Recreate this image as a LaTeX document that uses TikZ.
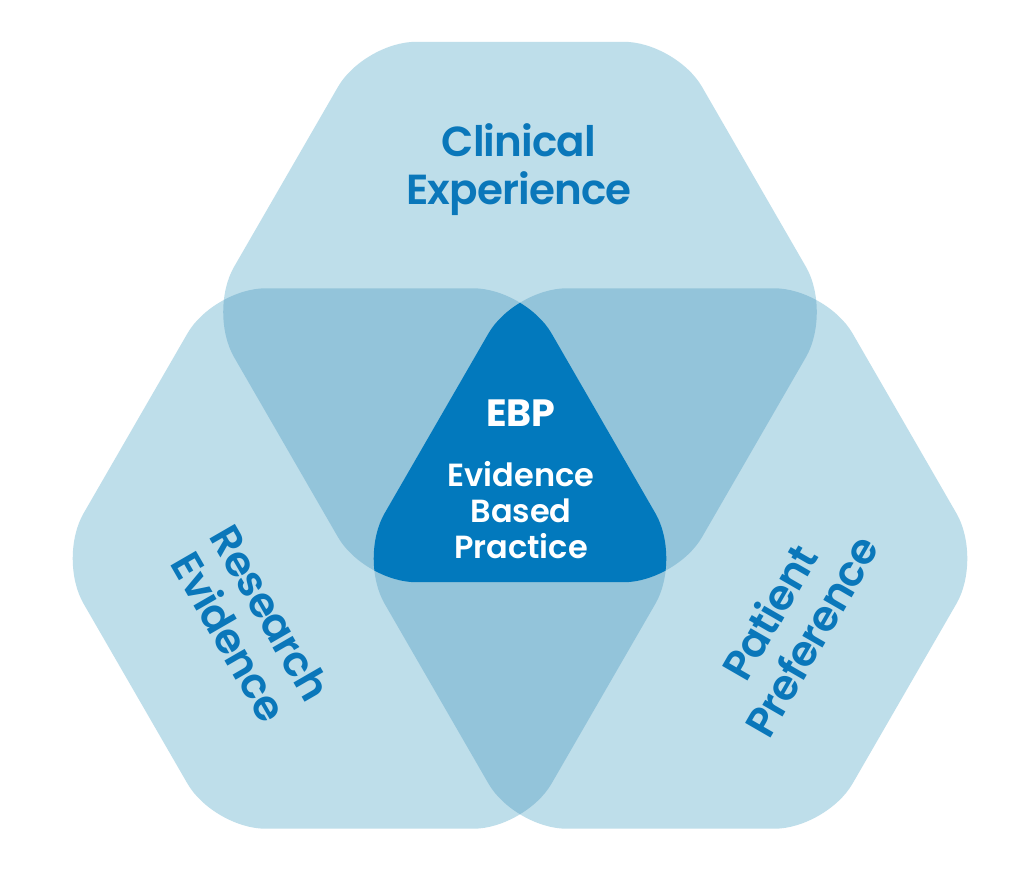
\documentclass[tikz,border=0pt]{standalone}
\usepackage{fontspec}
\setmainfont{Poppins}[UprightFont=* SemiBold, BoldFont=* Bold]
\definecolor{lightblue}{HTML}{BEDEEA}
\definecolor{midblue}{HTML}{93C4DA}
\definecolor{darkblue}{HTML}{0279BD}
\definecolor{txtblue}{HTML}{0A77BA}
\newcommand\hexat[2]{(#1+312,#2) -- (#1+156,#2-270.2) -- (#1-156,#2-270.2) -- (#1-312,#2) -- (#1-156,#2+270.2) -- (#1+156,#2+270.2) -- cycle}
\begin{document}
\begin{tikzpicture}[x=1pt,y=-1pt,
  hex/.style={rounded corners=52pt},
  lbl/.style={text=txtblue, align=center, font=\fontsize{42}{48}\selectfont\addfontfeatures{LetterSpace=-2}, inner sep=0pt},
  wlbl/.style={text=white, align=center, inner sep=0pt}]
\useasboundingbox (0,0) rectangle (1024,872);
\fill[white] (0,0) rectangle (1024,872);
% single regions
\fill[lightblue, hex] \hexat{520}{312};
\fill[lightblue, hex] \hexat{369.5}{558.5};
\fill[lightblue, hex] \hexat{670.5}{558.5};
% pairwise overlaps
\begin{scope}
  \clip[hex] \hexat{520}{312};
  \fill[midblue, hex] \hexat{369.5}{558.5};
  \fill[midblue, hex] \hexat{670.5}{558.5};
\end{scope}
\begin{scope}
  \clip[hex] \hexat{369.5}{558.5};
  \fill[midblue, hex] \hexat{670.5}{558.5};
\end{scope}
% triple overlap
\begin{scope}
  \clip[hex] \hexat{520}{312};
  \clip[hex] \hexat{369.5}{558.5};
  \fill[darkblue, hex] \hexat{670.5}{558.5};
\end{scope}
% labels
\node[lbl] (clin) at (519,170) {Clinical\\Experience};
\node[lbl, rotate=-60] (res) at (250,625) {Research\\Evidence};
\node[lbl, rotate=60] (pat) at (790,624) {Patient\\Preference};
\node[wlbl, font=\fontsize{38}{42}\selectfont\bfseries] (ebp) at (521,413) {EBP};
\node[wlbl, font=\fontsize{32}{36}\selectfont] (ebpfull) at (521,510) {Evidence\\Based\\Practice};
\end{tikzpicture}
\end{document}
